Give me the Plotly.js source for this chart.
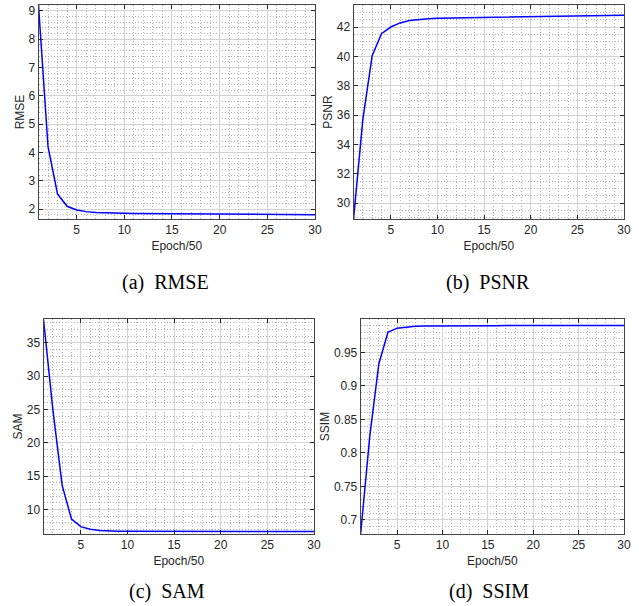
<!DOCTYPE html>
<html>
<head>
<meta charset="utf-8">
<script src="https://cdn.plot.ly/plotly-3.0.1.min.js"></script>
<style>html,body{margin:0;padding:0;background:#fff;}#chart{width:639px;height:606px;}</style>
</head>
<body>
<div id="chart"></div>
<script>
const epochs = [1,2,3,4,5,6,7,8,9,10,11,12,13,14,15,16,17,18,19,20,21,22,23,24,25,26,27,28,29,30];
const rmse = [9.2,4.2,2.53,2.1,1.97,1.91,1.88,1.865,1.857,1.85,1.847,1.844,1.841,1.838,1.835,1.832,1.83,1.828,1.826,1.824,1.822,1.82,1.818,1.816,1.814,1.812,1.81,1.808,1.806,1.804];
const psnr = [28.9,35.7,40.05,41.55,42.0,42.28,42.45,42.52,42.56,42.6,42.61,42.62,42.63,42.65,42.66,42.67,42.68,42.69,42.7,42.71,42.72,42.73,42.74,42.75,42.76,42.77,42.78,42.78,42.79,42.8];
const sam = [38.5,25.0,13.6,8.55,7.4,7.0,6.82,6.74,6.71,6.7,6.7,6.69,6.69,6.69,6.68,6.68,6.68,6.68,6.68,6.68,6.68,6.68,6.68,6.68,6.68,6.68,6.68,6.68,6.68,6.68];
const ssim = [0.68,0.825,0.933,0.98,0.986,0.988,0.989,0.9893,0.9895,0.9896,0.9897,0.9897,0.9898,0.9898,0.9898,0.9898,0.9899,0.9899,0.9899,0.9899,0.9899,0.9899,0.99,0.99,0.99,0.99,0.99,0.99,0.99,0.99];
const xTicks = [5,10,15,20,25,30];
const xLabel = 'Epoch/50';
const metricNames = ['RMSE','PSNR','SAM','SSIM'];
const captions = ['(a)  RMSE','(b)  PSNR','(c)  SAM','(d)  SSIM'];

const lineStyle = {color:'#0000ff', width:1.5};
const traces = [rmse, psnr, sam, ssim].map((v,i)=>({
  x: epochs, y: v, type:'scatter', mode:'lines', line: lineStyle,
  xaxis: i===0?'x':'x'+(i+1), yaxis: i===0?'y':'y'+(i+1), hoverinfo:'skip'
}));

const W = 639, H = 606;
function dx(a,b){return [a/W, b/W];}
function dy(top,bot){return [(H-bot)/H, (H-top)/H];}

const tickFont = {family:'Liberation Sans, Arial, sans-serif', size:12, color:'#262626'};
const minorStyle = {showgrid:true, gridcolor:'#b0b0b0', griddash:'1px,2px', gridwidth:1, ticks:''};
function xax(dom, anchor){
  return {
    domain: dom, anchor: anchor, range:[1,30], tickvals: xTicks, ticks:'inside', ticklen:4,
    tickcolor:'#262626', showline:true, linecolor:'#444', linewidth:1, mirror:'ticks',
    showgrid:true, gridcolor:'#d2d2d2', gridwidth:1, zeroline:false,
    minor:Object.assign({dtick:1, tick0:0}, minorStyle),
    tickfont: tickFont,
    title:{text:xLabel, font:tickFont, standoff:5}, automargin:false
  };
}
function yax(dom, anchor, range, dtick, minorDtick, name){
  return {
    domain: dom, anchor: anchor, range: range, dtick: dtick, tick0: 0, ticks:'inside', ticklen:4,
    tickcolor:'#262626', showline:true, linecolor:'#444', linewidth:1, mirror:'ticks',
    showgrid:true, gridcolor:'#d2d2d2', gridwidth:1, zeroline:false,
    minor:Object.assign({dtick:minorDtick}, minorStyle),
    tickfont: tickFont,
    title:{text:name, font:tickFont, standoff:1}, automargin:false
  };
}

const layout = {
  width: W, height: H, margin:{l:0,r:0,t:0,b:0}, showlegend:false,
  paper_bgcolor:'#fff', plot_bgcolor:'#fff',
  xaxis: xax(dx(38.5,315),'y'),
  yaxis: yax(dy(5,219),'x',[1.65,9.2],1,0.2,metricNames[0]),
  xaxis2: xax(dx(353.5,624),'y2'),
  yaxis2: yax(dy(5,219),'x2',[28.93,43.5],2,0.5,metricNames[1]),
  xaxis3: xax(dx(43.5,314),'y3'),
  yaxis3: yax(dy(319,534),'x3',[6.3,38.55],5,1,metricNames[2]),
  xaxis4: xax(dx(360.7,624),'y4'),
  yaxis4: yax(dy(319,534),'x4',[0.679,0.9997],0.05,0.01,metricNames[3]),
  annotations: [
    {text:captions[0], x:166/W, y:(H-282)/H},
    {text:captions[1], x:488/W, y:(H-282)/H},
    {text:captions[2], x:167/W, y:(H-591)/H},
    {text:captions[3], x:489/W, y:(H-591)/H}
  ].map(a=>Object.assign(a,{xref:'paper',yref:'paper',showarrow:false,xanchor:'center',yanchor:'middle',
    font:{family:'Liberation Serif, Times New Roman, serif', size:20, color:'#000'}}))
};

Plotly.newPlot('chart', traces, layout, {staticPlot:true, displayModeBar:false});
</script>
</body>
</html>
